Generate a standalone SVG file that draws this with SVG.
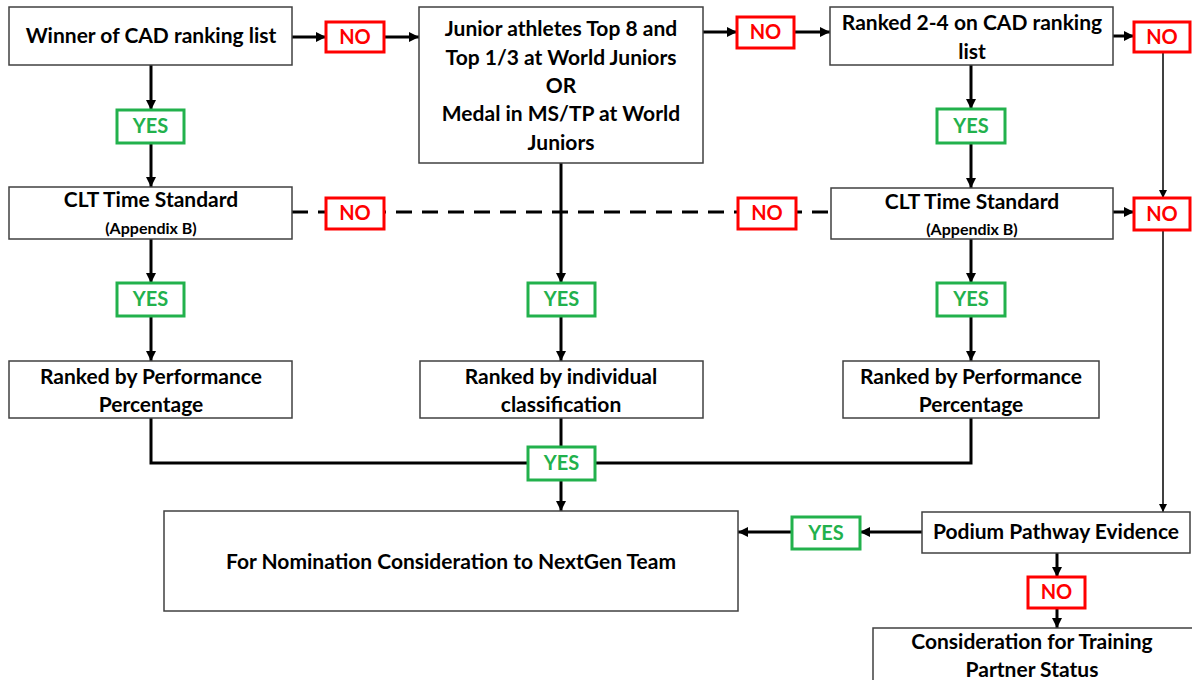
<svg xmlns="http://www.w3.org/2000/svg" width="1192" height="680" viewBox="0 0 1192 680">
<style>
.box{fill:#fff;stroke:#404040;stroke-width:1.5}
.t{font-family:Lato,"Open Sans",sans-serif;font-weight:bold;font-size:21px;fill:#000;text-anchor:middle}
.s{font-size:16px}
.yes{fill:#fff;stroke:#22b14c;stroke-width:3}
.no{fill:#fff;stroke:#ff0000;stroke-width:3}
.yt{font-family:Lato,"Open Sans",sans-serif;font-weight:bold;font-size:20px;fill:#22b14c;text-anchor:middle}
.nt{font-family:Lato,"Open Sans",sans-serif;font-weight:bold;font-size:20px;fill:#ff0000;text-anchor:middle}
.c{fill:none;stroke:#000;stroke-width:3}
.ca{fill:none;stroke:#000;stroke-width:3;marker-end:url(#ah)}
.thin{fill:none;stroke:#000;stroke-width:1.5;marker-end:url(#ahs)}
.dash{fill:none;stroke:#000;stroke-width:3;stroke-dasharray:16 10}
</style>
<defs>
<marker id="ah" viewBox="0 0 10 10" refX="10" refY="5" markerWidth="10" markerHeight="10" markerUnits="userSpaceOnUse" orient="auto"><path d="M0,0 L10,5 L0,10 z" fill="#000"/></marker>
<marker id="ahs" viewBox="0 0 10 10" refX="10" refY="5" markerWidth="8" markerHeight="8" markerUnits="userSpaceOnUse" orient="auto"><path d="M0,0 L10,5 L0,10 z" fill="#000"/></marker>
</defs>
<rect width="1192" height="680" fill="#fff"/>
<g id="connectors">
<path class="dash" d="M292,212 H830"/>
<path class="ca" d="M292,37 H326"/>
<path class="ca" d="M384,37 H419"/>
<path class="ca" d="M703,32 H737"/>
<path class="ca" d="M794,32 H830"/>
<path class="ca" d="M1113,36 H1134"/>
<path class="thin" d="M1163,52 V198"/>
<path class="thin" d="M1163,230 V512"/>
<path class="ca" d="M151,65 V110"/>
<path class="ca" d="M151,143 V187"/>
<path class="ca" d="M151,239 V283"/>
<path class="ca" d="M151,316 V361"/>
<path class="ca" d="M561,163 V283"/>
<path class="ca" d="M561,316 V361"/>
<path class="ca" d="M971,65 V109"/>
<path class="ca" d="M971,143 V188"/>
<path class="ca" d="M971,239 V283"/>
<path class="ca" d="M971,316 V361"/>
<path class="ca" d="M1113,212 H1134"/>
<path class="c" d="M151,418 V463 H528"/>
<path class="c" d="M971,418 V463 H595"/>
<path class="c" d="M561,418 V447"/>
<path class="ca" d="M561,480 V511"/>
<path class="ca" d="M922,532 H860"/>
<path class="ca" d="M792,532 H738"/>
<path class="ca" d="M1057,553 V577"/>
<path class="ca" d="M1057,608 V628"/>
</g>
<g id="n-winner"><rect class="box" x="9" y="7" width="283" height="58"/><text class="t" x="151" y="43">Winner of CAD ranking list</text></g>
<g id="n-junior"><rect class="box" x="419" y="7" width="284" height="156"/>
<text class="t" x="561" y="36">Junior athletes Top 8 and</text>
<text class="t" x="561" y="65">Top 1/3 at World Juniors</text>
<text class="t" x="561" y="93">OR</text>
<text class="t" x="561" y="121">Medal in MS/TP at World</text>
<text class="t" x="561" y="150">Juniors</text></g>
<g id="n-ranked24"><rect class="box" x="830" y="7" width="283" height="58"/>
<text class="t" x="972" y="30">Ranked 2-4 on CAD ranking</text>
<text class="t" x="972" y="59">list</text></g>
<g id="n-clt-left"><rect class="box" x="9" y="187" width="283" height="52"/>
<text class="t" x="151" y="207">CLT Time Standard</text>
<text class="t s" x="151" y="234">(Appendix B)</text></g>
<g id="n-clt-right"><rect class="box" x="831" y="188" width="282" height="51"/>
<text class="t" x="972" y="209">CLT Time Standard</text>
<text class="t s" x="972" y="235">(Appendix B)</text></g>
<g id="n-perf-left"><rect class="box" x="9" y="361" width="283" height="57"/>
<text class="t" x="151" y="384">Ranked by Performance</text>
<text class="t" x="151" y="412">Percentage</text></g>
<g id="n-indiv"><rect class="box" x="420" y="361" width="283" height="57"/>
<text class="t" x="561" y="384">Ranked by individual</text>
<text class="t" x="561" y="412">classification</text></g>
<g id="n-perf-right"><rect class="box" x="843" y="361" width="256" height="57"/>
<text class="t" x="971" y="384">Ranked by Performance</text>
<text class="t" x="971" y="412">Percentage</text></g>
<g id="n-nomination"><rect class="box" x="164" y="511" width="574" height="100"/>
<text class="t" x="451" y="569">For Nomination Consideration to NextGen Team</text></g>
<g id="n-podium"><rect class="box" x="922" y="512" width="268" height="41"/>
<text class="t" x="1056" y="539">Podium Pathway Evidence</text></g>
<g id="n-training"><rect class="box" x="873" y="628" width="330" height="70"/>
<text class="t" x="1032" y="649">Consideration for Training</text>
<text class="t" x="1032" y="677">Partner Status</text></g>
<g id="l-no1"><rect class="no" x="326" y="22" width="58" height="30"/><text class="nt" x="355" y="44">NO</text></g>
<g id="l-no2"><rect class="no" x="737" y="17" width="57" height="31"/><text class="nt" x="765.5" y="39">NO</text></g>
<g id="l-no3"><rect class="no" x="1134" y="22" width="56" height="30"/><text class="nt" x="1162" y="44">NO</text></g>
<g id="l-no-d1"><rect class="no" x="326" y="198" width="58" height="31"/><text class="nt" x="355" y="220">NO</text></g>
<g id="l-no-d2"><rect class="no" x="738" y="198" width="58" height="31"/><text class="nt" x="767" y="220">NO</text></g>
<g id="l-no4"><rect class="no" x="1134" y="198" width="56" height="32"/><text class="nt" x="1162" y="221">NO</text></g>
<g id="l-no5"><rect class="no" x="1028" y="577" width="57" height="31"/><text class="nt" x="1056.5" y="599">NO</text></g>
<g id="l-yes1"><rect class="yes" x="117" y="110" width="67" height="33"/><text class="yt" x="150.5" y="133">YES</text></g>
<g id="l-yes2"><rect class="yes" x="937" y="109" width="68" height="34"/><text class="yt" x="971" y="133">YES</text></g>
<g id="l-yes3"><rect class="yes" x="117" y="283" width="67" height="33"/><text class="yt" x="150.5" y="306">YES</text></g>
<g id="l-yes4"><rect class="yes" x="528" y="283" width="67" height="33"/><text class="yt" x="561.5" y="306">YES</text></g>
<g id="l-yes5"><rect class="yes" x="937" y="283" width="68" height="33"/><text class="yt" x="971" y="306">YES</text></g>
<g id="l-yes6"><rect class="yes" x="528" y="447" width="67" height="33"/><text class="yt" x="561.5" y="470">YES</text></g>
<g id="l-yes7"><rect class="yes" x="792" y="517" width="68" height="32"/><text class="yt" x="826" y="540">YES</text></g>
</svg>
